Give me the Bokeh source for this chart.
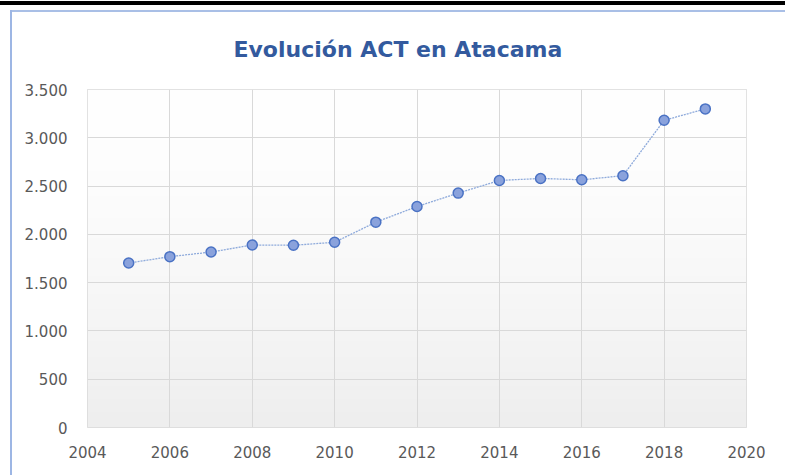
import numpy as np
from bokeh.plotting import figure
from bokeh.models import FixedTicker, Title
from bokeh.embed import file_html
from bokeh.resources import INLINE

# ---- data ----
years = [2005, 2006, 2007, 2008, 2009, 2010, 2011, 2012, 2013, 2014, 2015, 2016, 2017, 2018, 2019]
act = [1703, 1769, 1817, 1890, 1887, 1918, 2126, 2288, 2427, 2558, 2579, 2565, 2607, 3181, 3299]

x_ticks = [2004, 2006, 2008, 2010, 2012, 2014, 2016, 2018, 2020]
x_tick_labels = ["2004", "2006", "2008", "2010", "2012", "2014", "2016", "2018", "2020"]
y_ticks = [0, 500, 1000, 1500, 2000, 2500, 3000, 3500]
y_tick_labels = ["0", "500", "1.000", "1.500", "2.000", "2.500", "3.000", "3.500"]

title_text = "Evolución ACT en Atacama"

FONT = "DejaVu Sans"
GRID = "#d9d9d9"
LABEL = "#595959"

p = figure(width=785, height=475,
           x_range=(x_ticks[0], x_ticks[-1]), y_range=(y_ticks[0], y_ticks[-1]),
           output_backend="svg", toolbar_location=None,
           min_border_left=87, min_border_right=39, min_border_top=89, min_border_bottom=48,
           title=None)

# container frame lines (top black band, left and top thin blue rules) drawn as CSS background
p.border_fill_alpha = 0
p.styles = {
    "background": ("linear-gradient(#000000, #000000) 0px 1px / 100% 4px no-repeat, "
                   "linear-gradient(#9db6e4, #9db6e4) 10px 10px / 2px 100% no-repeat, "
                   "linear-gradient(#a9bfe6, #a9bfe6) 10px 10px / 100% 2px no-repeat, white")
}

# plot-area gradient background
n = 256
v = np.linspace(0, 1, n)
g = (255 - 17 * (1 - v) ** 1.5).astype(np.uint32)
img = np.zeros((n, 1), dtype=np.uint32)
view = img.view(dtype=np.uint8).reshape((n, 1, 4))
view[:, 0, 0] = g
view[:, 0, 1] = g
view[:, 0, 2] = g
view[:, 0, 3] = 255
p.image_rgba(image=[img], x=x_ticks[0], y=y_ticks[0], dw=x_ticks[-1] - x_ticks[0],
             dh=y_ticks[-1] - y_ticks[0], level="image")

p.background_fill_color = "white"
p.outline_line_color = GRID
p.outline_line_width = 1

p.xgrid.ticker = FixedTicker(ticks=x_ticks)
p.ygrid.ticker = FixedTicker(ticks=y_ticks)
p.xgrid.grid_line_color = GRID
p.ygrid.grid_line_color = GRID

for ax, ticks, labels in ((p.xaxis[0], x_ticks, x_tick_labels), (p.yaxis[0], y_ticks, y_tick_labels)):
    ax.ticker = FixedTicker(ticks=ticks)
    ax.major_label_overrides = {t: l for t, l in zip(ticks, labels)}
    ax.axis_line_color = None
    ax.major_tick_line_color = None
    ax.minor_tick_line_color = None
    ax.major_label_text_font = FONT
    ax.major_label_text_font_size = "15px"
    ax.major_label_text_color = LABEL

p.yaxis.major_label_standoff = 14
p.xaxis.major_label_standoff = 12

p.line(years, act, line_color="#8eaadb", line_width=1.3, line_dash="2 1")
p.scatter(years, act, size=10, fill_color="#8aa2dc", line_color="#4a72c4", line_width=1.5)

t = Title(text=title_text, align="left", text_font=FONT, text_font_size="22px",
          text_font_style="bold", text_color="#335a9e", offset=146, standoff=55)
p.add_layout(t, "above")

open("out.html", "w").write(file_html(p, INLINE))
